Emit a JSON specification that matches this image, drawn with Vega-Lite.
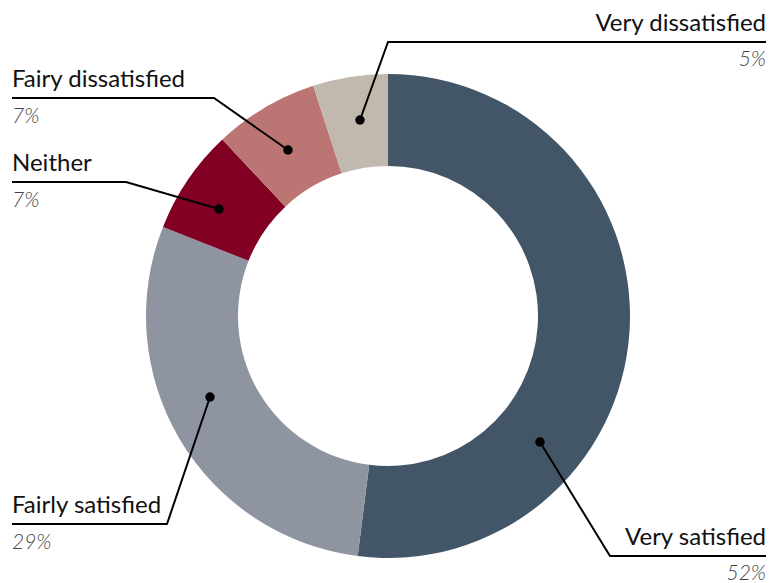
{
  "$schema": "https://vega.github.io/schema/vega-lite/v6.json",
  "width": 776,
  "height": 632,
  "autosize": "none",
  "padding": 0,
  "background": "white",
  "config": {"view": {"stroke": null}, "font": "Lato"},
  "datasets": {
    "slices": [
      {"category": "Very satisfied", "share": 0.52, "order": 1, "endX": 766, "endY": 556, "side": "right"},
      {"category": "Fairly satisfied", "share": 0.29, "order": 2, "endX": 12, "endY": 524, "side": "left"},
      {"category": "Neither", "share": 0.07, "order": 3, "endX": 12, "endY": 182, "side": "left"},
      {"category": "Fairy dissatisfied", "share": 0.07, "order": 4, "endX": 12, "endY": 98, "side": "left"},
      {"category": "Very dissatisfied", "share": 0.05, "order": 5, "endX": 766, "endY": 42, "side": "right"}
    ],
    "leaders": [
      {"category": "Very satisfied", "point": 1, "x": 540, "y": 442},
      {"category": "Very satisfied", "point": 2, "x": 610, "y": 556},
      {"category": "Very satisfied", "point": 3, "x": 766, "y": 556},
      {"category": "Fairly satisfied", "point": 1, "x": 210, "y": 397},
      {"category": "Fairly satisfied", "point": 2, "x": 167, "y": 524},
      {"category": "Fairly satisfied", "point": 3, "x": 12, "y": 524},
      {"category": "Neither", "point": 1, "x": 219, "y": 209},
      {"category": "Neither", "point": 2, "x": 126, "y": 182},
      {"category": "Neither", "point": 3, "x": 12, "y": 182},
      {"category": "Fairy dissatisfied", "point": 1, "x": 288, "y": 150},
      {"category": "Fairy dissatisfied", "point": 2, "x": 214, "y": 98},
      {"category": "Fairy dissatisfied", "point": 3, "x": 12, "y": 98},
      {"category": "Very dissatisfied", "point": 1, "x": 360, "y": 120},
      {"category": "Very dissatisfied", "point": 2, "x": 388, "y": 42},
      {"category": "Very dissatisfied", "point": 3, "x": 766, "y": 42}
    ]
  },
  "layer": [
    {
      "data": {"name": "slices"},
      "mark": {"type": "arc", "outerRadius": 242, "innerRadius": 150},
      "encoding": {
        "theta": {"field": "share", "type": "quantitative", "stack": true},
        "order": {"field": "order", "type": "quantitative"},
        "color": {
          "field": "category",
          "type": "nominal",
          "legend": null,
          "scale": {
            "domain": ["Very satisfied", "Fairly satisfied", "Neither", "Fairy dissatisfied", "Very dissatisfied"],
            "range": ["#435668", "#8e95a1", "#820024", "#bb7573", "#c1b8ae"]
          }
        }
      }
    },
    {
      "data": {"name": "leaders"},
      "mark": {"type": "line", "color": "black", "strokeWidth": 2},
      "encoding": {
        "x": {"field": "x", "type": "quantitative", "axis": null, "scale": {"domain": [0, 776], "nice": false, "zero": false}},
        "y": {"field": "y", "type": "quantitative", "axis": null, "scale": {"domain": [0, 632], "nice": false, "zero": false, "reverse": true}},
        "detail": {"field": "category"},
        "order": {"field": "point", "type": "quantitative"}
      }
    },
    {
      "data": {"name": "leaders"},
      "transform": [{"filter": "datum.point == 1"}],
      "mark": {"type": "point", "filled": true, "color": "black", "size": 90, "opacity": 1},
      "encoding": {
        "x": {"field": "x", "type": "quantitative"},
        "y": {"field": "y", "type": "quantitative"}
      }
    },
    {
      "data": {"name": "slices"},
      "transform": [{"filter": "datum.side == 'left'"}],
      "layer": [
        {
          "mark": {"type": "text", "align": "left", "baseline": "alphabetic", "dy": -11, "fontSize": 24, "color": "#111111"},
          "encoding": {
            "x": {"field": "endX", "type": "quantitative"},
            "y": {"field": "endY", "type": "quantitative"},
            "text": {"field": "category"}
          }
        },
        {
          "mark": {"type": "text", "align": "left", "baseline": "alphabetic", "dy": 25, "fontSize": 21, "fontStyle": "italic", "fontWeight": 300, "color": "#444444"},
          "encoding": {
            "x": {"field": "endX", "type": "quantitative"},
            "y": {"field": "endY", "type": "quantitative"},
            "text": {"field": "share", "format": ".0%"}
          }
        }
      ]
    },
    {
      "data": {"name": "slices"},
      "transform": [{"filter": "datum.side == 'right'"}],
      "layer": [
        {
          "mark": {"type": "text", "align": "right", "baseline": "alphabetic", "dy": -11, "fontSize": 24, "color": "#111111"},
          "encoding": {
            "x": {"field": "endX", "type": "quantitative"},
            "y": {"field": "endY", "type": "quantitative"},
            "text": {"field": "category"}
          }
        },
        {
          "mark": {"type": "text", "align": "right", "baseline": "alphabetic", "dy": 24, "fontSize": 21, "fontStyle": "italic", "fontWeight": 300, "color": "#444444"},
          "encoding": {
            "x": {"field": "endX", "type": "quantitative"},
            "y": {"field": "endY", "type": "quantitative"},
            "text": {"field": "share", "format": ".0%"}
          }
        }
      ]
    }
  ]
}
